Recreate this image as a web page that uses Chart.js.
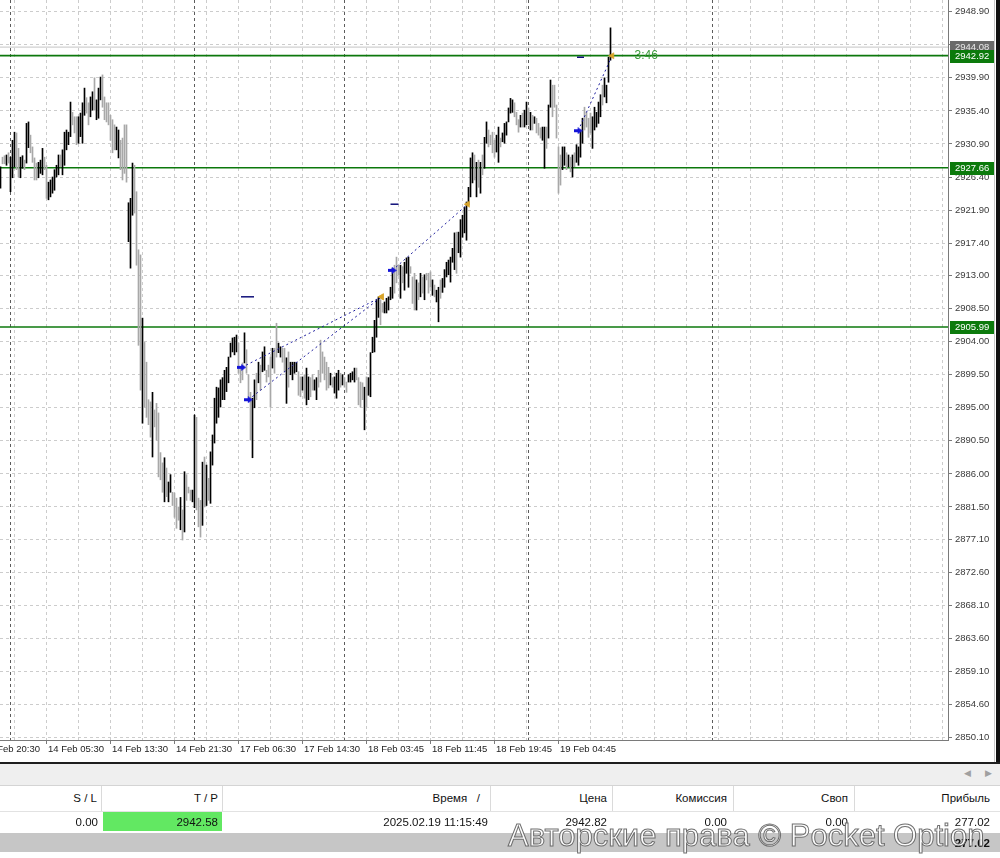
<!DOCTYPE html>
<html>
<head>
<meta charset="utf-8">
<script src="https://cdn.jsdelivr.net/npm/chart.js@4.4.1/dist/chart.umd.min.js"></script>
<style>
  html, body { margin: 0; padding: 0; background: #fff; width: 1000px; height: 858px; overflow: hidden; }
  body { font-family: "Liberation Sans", Arial, sans-serif; }
  #wrap { position: relative; width: 1000px; height: 858px; }
  #chart { position: absolute; left: 0; top: 0; }
  .abs { position: absolute; }
  .edge { left: 996px; top: 0; width: 4px; height: 763px; background: #111; }
  .edge2 { left: 994px; top: 0; width: 1px; height: 763px; background: #c8c8c8; }
  .sep { left: 0; top: 762px; width: 1000px; height: 2px; background: #1e1e1e; }
  .toolbar { left: 0; top: 764px; width: 1000px; height: 21px; background: #efefef; border-bottom: 1px solid #d4d4d4; }
  .arr { top: 4px; font-size: 9px; color: #a0a0a0; }
  .hdr { left: 0; top: 786px; width: 1000px; height: 25px; background: #fff; border-bottom: 1px solid #e2e2e2; }
  .row { left: 0; top: 812px; width: 1000px; height: 20px; background: #fff; }
  .total { left: 0; top: 833px; width: 1000px; height: 19px; background: #c6c6c6; }
  .c { position: absolute; top: 0; text-align: right; white-space: nowrap; font-size: 11.5px; color: #111; }
  .hdr .c { line-height: 25px; }
  .row .c, .total .c { line-height: 20px; }
  .vs { position: absolute; top: 0; width: 1px; height: 25px; background: #dadada; }
  .tp { left: 103px; top: 0; width: 119px; height: 19px; background: #62e862; }
  .wm { left: 508px; top: 818px; font-size: 31px; line-height: 36px; white-space: nowrap;
        color: rgba(255,255,255,0.9); -webkit-text-stroke: 1px rgba(95,95,95,0.9); }
</style>
</head>
<body>
<div id="wrap">
  <canvas id="chart" width="1000" height="762"></canvas>
  <div class="abs edge2"></div>
  <div class="abs edge"></div>
  <div class="abs sep"></div>
  <div class="abs toolbar">
    <span class="abs arr" style="left:964px">&#9664;</span>
    <span class="abs arr" style="left:985px">&#9654;</span>
  </div>
  <div class="abs hdr">
    <div class="c" style="left:0;width:97px">S / L</div>
    <div class="vs" style="left:101px"></div>
    <div class="c" style="left:102px;width:116px">T / P</div>
    <div class="vs" style="left:222px"></div>
    <div class="c" style="left:223px;width:257px">Время &nbsp;&nbsp;/</div>
    <div class="vs" style="left:490px"></div>
    <div class="c" style="left:491px;width:116px">Цена</div>
    <div class="vs" style="left:612px"></div>
    <div class="c" style="left:613px;width:114px">Комиссия</div>
    <div class="vs" style="left:733px"></div>
    <div class="c" style="left:734px;width:114px">Своп</div>
    <div class="vs" style="left:854px"></div>
    <div class="c" style="left:855px;width:135px">Прибыль</div>
  </div>
  <div class="abs row">
    <div class="abs tp"></div>
    <div class="c" style="left:0;width:98px">0.00</div>
    <div class="c" style="left:102px;width:116px">2942.58</div>
    <div class="c" style="left:223px;width:265px">2025.02.19 11:15:49</div>
    <div class="c" style="left:491px;width:116px">2942.82</div>
    <div class="c" style="left:613px;width:114px">0.00</div>
    <div class="c" style="left:734px;width:114px">0.00</div>
    <div class="c" style="left:855px;width:135px">277.02</div>
  </div>
  <div class="abs total">
    <div class="c" style="left:855px;width:135px;font-weight:bold">277.02</div>
  </div>
  <div class="abs wm">Авторские права © Pocket Option</div>
</div>
<script>
// M15 bars, index 0 = first visible bar (13 Feb evening), 2 px per bar
const barHigh = [
  2927.8, 2929.1, 2929.3, 2929.4, 2929.7, 2929.1, 2931.4, 2932.5, 2932.4, 2930.3,
  2929.1, 2929.3, 2928.7, 2933.7, 2933.9, 2932.1, 2930.5, 2929.0, 2928.3, 2928.4,
  2928.7, 2930.3, 2929.1, 2928.0, 2925.7, 2926.0, 2926.4, 2927.4, 2928.0, 2929.4,
  2929.4, 2930.1, 2932.5, 2932.8, 2932.5, 2936.6, 2935.2, 2934.6, 2934.6, 2934.6,
  2935.1, 2936.5, 2938.5, 2937.2, 2936.5, 2937.3, 2938.0, 2939.9, 2936.9, 2938.5,
  2940.0, 2940.3, 2937.3, 2936.5, 2936.5, 2934.8, 2934.2, 2933.5, 2933.2, 2932.8,
  2931.4, 2931.7, 2933.5, 2933.5, 2922.9, 2923.5, 2928.3, 2928.0, 2924.4, 2916.5,
  2915.8, 2907.2, 2903.9, 2901.2, 2896.1, 2895.8, 2897.1, 2894.7, 2895.6, 2894.3,
  2888.9, 2887.5, 2888.2, 2886.8, 2884.9, 2885.9, 2883.5, 2883.4, 2882.7, 2881.5,
  2882.8, 2881.1, 2886.3, 2885.9, 2884.2, 2883.8, 2883.8, 2894.0, 2893.7, 2882.7,
  2882.4, 2887.6, 2888.3, 2887.2, 2885.4, 2889.0, 2891.3, 2896.3, 2897.8, 2897.7,
  2898.8, 2899.1, 2900.1, 2900.5, 2901.9, 2903.8, 2904.5, 2904.6, 2904.9, 2903.8,
  2900.4, 2901.1, 2905.2, 2902.9, 2899.5, 2897.1, 2896.3, 2898.8, 2899.7, 2901.2,
  2900.8, 2902.6, 2903.3, 2900.1, 2900.8, 2901.9, 2903.1, 2903.1, 2906.5, 2903.8,
  2903.3, 2903.1, 2903.1, 2901.8, 2902.6, 2901.2, 2901.2, 2901.2, 2901.2, 2899.9,
  2899.2, 2899.2, 2899.5, 2900.4, 2899.2, 2899.1, 2899.5, 2898.8, 2899.1, 2900.1,
  2904.2, 2902.6, 2901.9, 2901.2, 2900.5, 2899.7, 2899.1, 2899.2, 2899.7, 2900.1,
  2899.7, 2899.5, 2899.1, 2898.5, 2899.5, 2899.7, 2899.9, 2900.4, 2900.4, 2899.1,
  2898.5, 2898.4, 2897.8, 2899.2, 2899.1, 2902.5, 2904.6, 2906.9, 2909.7, 2910.1,
  2909.7, 2909.2, 2909.4, 2909.9, 2910.1, 2911.4, 2914.0, 2914.4, 2915.5, 2914.4,
  2914.4, 2914.2, 2914.8, 2915.4, 2915.5, 2914.2, 2912.8, 2913.3, 2912.4, 2912.0,
  2913.3, 2912.8, 2913.1, 2913.3, 2913.3, 2913.5, 2912.4, 2911.7, 2911.0, 2911.4,
  2912.4, 2912.6, 2913.8, 2914.8, 2915.1, 2915.5, 2916.7, 2918.8, 2918.9, 2918.9,
  2920.6, 2921.2, 2922.3, 2923.0, 2925.0, 2929.0, 2929.7, 2929.4, 2928.4, 2928.7,
  2928.4, 2929.4, 2931.8, 2933.9, 2932.8, 2932.1, 2932.5, 2931.4, 2932.1, 2933.2,
  2931.7, 2932.4, 2933.7, 2933.9, 2935.8, 2937.1, 2936.9, 2936.5, 2935.2, 2934.2,
  2934.8, 2935.1, 2935.5, 2936.6, 2935.8, 2935.2, 2934.8, 2934.6, 2934.4, 2933.7,
  2933.1, 2933.2, 2933.2, 2933.2, 2936.2, 2939.6, 2938.9, 2938.9, 2936.2, 2930.5,
  2929.4, 2930.5, 2930.5, 2929.7, 2929.4, 2929.1, 2929.4, 2929.7, 2930.8, 2930.5,
  2932.8, 2934.4, 2935.9, 2935.2, 2934.4, 2935.1, 2934.6, 2935.9, 2935.2, 2936.6,
  2937.6, 2938.9, 2939.9, 2938.9, 2942.7, 2946.7
];
const barLow = [
  2924.9, 2928.2, 2928.2, 2928.0, 2928.3, 2924.4, 2926.3, 2927.8, 2927.4, 2926.4,
  2926.3, 2927.6, 2927.4, 2928.3, 2930.4, 2929.7, 2928.4, 2926.0, 2926.0, 2926.3,
  2926.9, 2926.7, 2927.4, 2923.5, 2923.3, 2923.7, 2924.2, 2924.6, 2926.4, 2926.7,
  2927.8, 2926.7, 2928.0, 2930.1, 2930.8, 2931.9, 2933.5, 2932.4, 2930.8, 2931.0,
  2931.9, 2931.0, 2934.8, 2935.1, 2933.5, 2934.6, 2935.5, 2935.5, 2934.2, 2934.4,
  2936.9, 2935.9, 2934.2, 2933.9, 2933.5, 2931.4, 2929.7, 2930.1, 2930.1, 2929.0,
  2927.4, 2926.0, 2926.9, 2925.7, 2917.6, 2914.0, 2921.2, 2921.5, 2914.4, 2903.5,
  2897.4, 2892.9, 2895.1, 2893.7, 2892.7, 2891.0, 2888.3, 2892.4, 2890.6, 2885.6,
  2885.2, 2883.5, 2882.2, 2882.9, 2882.2, 2883.5, 2881.7, 2880.1, 2878.6, 2879.7,
  2878.4, 2877.0, 2878.1, 2882.4, 2883.4, 2882.4, 2882.2, 2881.4, 2881.1, 2878.8,
  2877.4, 2879.0, 2881.5, 2881.7, 2882.4, 2882.0, 2887.2, 2890.2, 2892.9, 2893.7,
  2895.1, 2896.1, 2896.1, 2897.2, 2898.4, 2901.9, 2902.6, 2902.2, 2902.6, 2899.7,
  2898.4, 2898.8, 2901.1, 2899.7, 2896.1, 2890.6, 2888.2, 2895.0, 2896.1, 2898.4,
  2897.4, 2899.9, 2900.1, 2898.5, 2899.2, 2895.1, 2900.4, 2899.7, 2901.9, 2902.5,
  2901.9, 2901.2, 2899.9, 2895.6, 2897.8, 2899.5, 2898.8, 2899.7, 2899.9, 2896.7,
  2896.5, 2897.4, 2896.3, 2895.4, 2896.1, 2896.5, 2897.4, 2897.4, 2896.1, 2897.8,
  2898.5, 2899.7, 2898.8, 2897.4, 2897.7, 2898.1, 2897.8, 2897.0, 2896.3, 2897.4,
  2897.8, 2898.1, 2897.8, 2897.1, 2898.5, 2898.5, 2898.8, 2898.5, 2898.8, 2895.4,
  2895.1, 2896.1, 2892.0, 2895.1, 2896.7, 2896.5, 2902.5, 2902.6, 2904.6, 2907.3,
  2906.3, 2908.0, 2907.9, 2907.9, 2908.3, 2909.7, 2909.9, 2910.6, 2912.0, 2913.1,
  2909.9, 2912.0, 2911.0, 2913.3, 2911.4, 2913.3, 2909.2, 2908.3, 2908.3, 2909.7,
  2910.1, 2910.6, 2909.7, 2912.4, 2910.6, 2911.4, 2910.3, 2910.1, 2909.4, 2906.7,
  2909.9, 2910.7, 2911.4, 2912.8, 2913.1, 2912.1, 2914.8, 2913.8, 2913.3, 2916.1,
  2915.5, 2918.2, 2918.8, 2917.8, 2922.6, 2923.7, 2925.6, 2926.0, 2923.7, 2925.0,
  2924.2, 2926.7, 2927.6, 2931.0, 2930.5, 2930.8, 2929.7, 2929.1, 2929.8, 2928.4,
  2930.5, 2931.2, 2931.0, 2932.1, 2933.9, 2935.1, 2935.2, 2934.6, 2933.5, 2932.5,
  2933.2, 2933.2, 2933.2, 2933.5, 2933.5, 2932.8, 2932.8, 2933.7, 2932.4, 2932.1,
  2931.7, 2931.4, 2927.6, 2930.3, 2931.7, 2935.9, 2934.6, 2935.9, 2931.7, 2924.2,
  2925.3, 2927.4, 2928.0, 2927.4, 2927.8, 2927.1, 2926.4, 2927.8, 2928.4, 2928.0,
  2929.1, 2931.0, 2932.8, 2933.2, 2931.8, 2932.4, 2930.3, 2932.8, 2933.2, 2933.7,
  2934.6, 2936.2, 2937.3, 2936.5, 2939.3, 2942.3
];
// 1 = bull bar (black), 0 = bear bar (grey)
const barUp = [
  1,0,0,1,0,1,1,1,0,0, 1,1,0,1,1,0,0,0,0,1, 1,1,0,0,1,1,1,1,1,1, 0,1,1,1,1,1,0,0,0,1,
  1,1,1,0,0,1,1,0,1,1, 1,0,0,0,0,0,0,0,1,1, 0,0,0,0,1,1,1,0,0,0, 0,1,0,0,0,0,1,0,0,0,
  0,0,1,0,1,1,0,0,0,0, 1,0,1,0,0,0,1,1,0,0, 0,1,0,1,0,1,1,1,1,1, 1,1,1,1,1,1,1,1,1,0,
  0,0,1,0,0,0,1,1,0,1, 0,1,1,0,0,0,1,0,0,1, 1,0,0,1,0,1,1,1,1,0, 0,1,0,1,1,0,0,1,1,0,
  0,0,0,0,0,1,0,1,1,1, 0,1,0,0,1,1,1,1,0,0, 0,0,1,0,1,1,1,1,1,1, 0,0,1,1,1,1,1,0,0,0,
  1,0,1,1,1,0,0,0,1,0, 1,0,1,0,0,0,1,0,1,1, 0,1,1,1,1,1,1,1,0,1, 1,1,1,1,1,1,1,0,1,0,
  1,0,1,1,0,0,0,0,1,1, 0,1,1,1,1,1,1,0,0,0, 1,0,1,1,0,1,0,1,0,0, 0,1,1,0,1,1,0,0,0,0,
  0,1,1,0,1,0,1,0,1,1, 1,1,0,0,0,0,1,1,1,1, 1,0,1,1,1,1
];

// price scale ticks and horizontal levels
const priceTicks = [2948.90, 2944.40, 2939.90, 2935.40, 2930.90, 2926.40, 2921.90, 2917.40,
  2913.00, 2908.50, 2904.00, 2899.50, 2895.00, 2890.50, 2886.00, 2881.50, 2877.10, 2872.60,
  2868.10, 2863.60, 2859.10, 2854.60, 2850.10];
const levelPrices = [2942.92, 2927.66, 2905.99];
const bidPrice = 2944.08;

// time axis (bar index of each label)
const timeLabelBars = [-9, 23, 55, 87, 119, 151, 183, 215, 247, 279];
const timeLabels = ['13 Feb 20:30', '14 Feb 05:30', '14 Feb 13:30', '14 Feb 21:30', '17 Feb 06:30',
  '17 Feb 14:30', '18 Feb 03:45', '18 Feb 11:45', '18 Feb 19:45', '19 Feb 04:45'];
const daySeparatorBars = [5, 97, 172, 264, 356];

// trades: entry arrows, exit marks, stop dashes
const entryBars = [120.6, 123.9, 195.9, 288.8];
const entryPrices = [2900.5, 2896.1, 2913.7, 2932.7];
const exitBars = [190.6, 190.6, 233.6, 305.8];
const exitPrices = [2910.1, 2910.1, 2922.7, 2942.9];
const dashBars = [123.5, 197.0, 290.0];
const dashPrices = [2910.1, 2922.7, 2942.7];
const countdownText = '3:46';

const gridBars = [];
for (let b = 7; b <= 471; b += 16) gridBars.push(b);

function makeArrow() {
  const c = document.createElement('canvas');
  c.width = 9; c.height = 7;
  const g = c.getContext('2d');
  g.fillStyle = '#1414d8';
  g.fillRect(0, 2, 4, 3);
  g.beginPath(); g.moveTo(4, 0); g.lineTo(9, 3.5); g.lineTo(4, 7); g.closePath(); g.fill();
  return c;
}

const FONT = '"Liberation Sans", Arial, sans-serif';

const mtOverlay = {
  id: 'mtOverlay',
  beforeDatasetsDraw(chart) {
    const { ctx, chartArea: a, scales: { x, y } } = chart;
    ctx.save();
    ctx.beginPath(); ctx.rect(a.left, a.top, a.right - a.left, a.bottom - a.top); ctx.clip();
    // period separators
    ctx.strokeStyle = '#5c5c5c'; ctx.lineWidth = 1; ctx.setLineDash([3, 3]);
    daySeparatorBars.forEach(b => {
      const px = Math.floor(x.getPixelForValue(b)) + 0.5;
      ctx.beginPath(); ctx.moveTo(px, a.top); ctx.lineTo(px, a.bottom); ctx.stroke();
    });
    ctx.setLineDash([]);
    // bid line
    const by = y.getPixelForValue(bidPrice);
    ctx.strokeStyle = '#c4c4c4';
    ctx.beginPath(); ctx.moveTo(a.left, by); ctx.lineTo(a.right, by); ctx.stroke();
    // horizontal levels
    ctx.strokeStyle = '#0c780c'; ctx.lineWidth = 1.6;
    levelPrices.forEach(p => {
      const py = y.getPixelForValue(p);
      ctx.beginPath(); ctx.moveTo(a.left, py); ctx.lineTo(a.right + 2, py); ctx.stroke();
    });
    ctx.restore();
  },
  afterDraw(chart) {
    const { ctx, chartArea: a, scales: { x, y } } = chart;
    ctx.save();
    // time labels + tick marks
    ctx.font = '9.5px ' + FONT;
    ctx.fillStyle = '#222'; ctx.textBaseline = 'middle'; ctx.textAlign = 'left';
    ctx.strokeStyle = '#7a7a7a'; ctx.lineWidth = 1;
    timeLabelBars.forEach((b, i) => {
      const px = Math.floor(x.getPixelForValue(b)) + 0.5;
      ctx.beginPath(); ctx.moveTo(px, a.bottom); ctx.lineTo(px, a.bottom + 4); ctx.stroke();
      ctx.fillText(timeLabels[i], px + 1.5, a.bottom + 9.5);
    });
    // axis price labels
    const bidY = y.getPixelForValue(bidPrice);
    ctx.fillStyle = '#6a6a6a';
    ctx.fillRect(a.right + 2, Math.round(bidY) - 6, 44, 12);
    ctx.fillStyle = '#e8e8e8';
    ctx.fillText(bidPrice.toFixed(2), a.right + 7, Math.round(bidY));
    levelPrices.forEach(p => {
      const py = Math.round(y.getPixelForValue(p));
      ctx.fillStyle = '#0c7a0c';
      ctx.fillRect(a.right + 2, py - 6, 44, 13);
      ctx.fillStyle = '#fff';
      ctx.fillText(p.toFixed(2), a.right + 7, py + 0.5);
    });
    // bar countdown
    ctx.font = '12px ' + FONT;
    ctx.fillStyle = '#3a9a3a';
    ctx.fillText(countdownText, x.getPixelForValue(317), y.getPixelForValue(levelPrices[0]));
    ctx.restore();
  }
};

const bars = barHigh.map((h, i) => ({ x: i, y: [barLow[i], h] }));
const tradeLines = entryBars.map((b, i) => ({
  type: 'line',
  data: [{ x: b, y: entryPrices[i] }, { x: exitBars[i], y: exitPrices[i] }],
  borderColor: '#1c1c9c', borderWidth: 1, borderDash: [2, 3],
  pointRadius: 0, fill: false, order: 3
}));

new Chart(document.getElementById('chart'), {
  type: 'bar',
  data: {
    datasets: [
      {
        type: 'line', showLine: false,
        data: entryBars.map((b, i) => ({ x: b, y: entryPrices[i] })),
        pointStyle: makeArrow(), pointRadius: 4, order: 0
      },
      {
        type: 'line', showLine: false,
        data: exitBars.map((b, i) => ({ x: b, y: exitPrices[i] })),
        pointStyle: 'triangle', rotation: 270, pointRadius: 3.6,
        backgroundColor: '#d8a42a', borderColor: '#d8a42a', borderWidth: 0.5, order: 0
      },
      {
        type: 'line', showLine: false,
        data: dashBars.map((b, i) => ({ x: b, y: dashPrices[i] })),
        pointStyle: 'line', pointRadius: [6.5, 4, 3.5], borderColor: '#10107a', borderWidth: 1.5, order: 0
      },
      ...tradeLines,
      {
        type: 'bar',
        data: bars,
        backgroundColor: barUp.map(u => u ? '#000000' : '#a8a8a8'),
        barThickness: 1, borderWidth: 0, order: 10
      }
    ]
  },
  options: {
    responsive: false,
    animation: false,
    devicePixelRatio: 1,
    layout: { padding: 0, autoPadding: false },
    plugins: { legend: { display: false }, tooltip: { enabled: false } },
    scales: {
      x: {
        type: 'linear', min: -0.25, max: 473.75, offset: false,
        afterFit: s => { s.height = 22; s.paddingLeft = 0; s.paddingRight = 0; },
        afterBuildTicks: s => { s.ticks = gridBars.map(v => ({ value: v })); },
        ticks: { display: false },
        grid: { color: '#cccccc', drawTicks: false, offset: false },
        border: { display: true, color: '#7a7a7a', dash: [3, 3] }
      },
      y: {
        position: 'right', min: 2849.79, max: 2950.49,
        afterFit: s => { s.width = 52; s.paddingTop = 0; s.paddingBottom = 0; },
        afterBuildTicks: s => { s.ticks = priceTicks.map(v => ({ value: v })); },
        ticks: {
          color: '#3a3a3a', font: { family: FONT, size: 9.5 }, padding: 3, autoSkip: false,
          callback: v => Number(v).toFixed(2)
        },
        grid: { color: '#cccccc', tickColor: '#7a7a7a', tickLength: 4, tickBorderDash: [1, 0] },
        border: { display: true, color: '#7a7a7a', dash: [3, 3] }
      }
    }
  },
  plugins: [mtOverlay]
});
</script>
</body>
</html>
